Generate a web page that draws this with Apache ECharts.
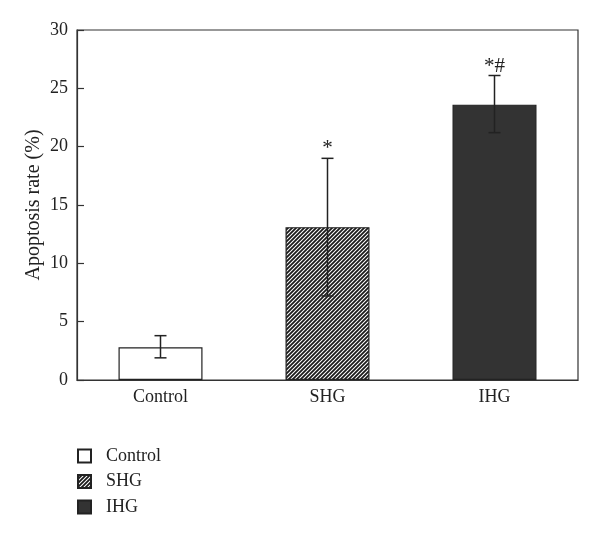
<!DOCTYPE html>
<html>
<head>
<meta charset="utf-8">
<script src="https://cdn.jsdelivr.net/npm/echarts@6/dist/echarts.min.js"></script>
<style>html,body{margin:0;padding:0;background:#fff;}#c{width:600px;height:537px;}</style>
</head>
<body>
<div id="c"></div>
<script>
var categories = ['Control', 'SHG', 'IHG'];
var means = [2.8, 13.1, 23.6];
var errLow = [1.9, 7.2, 21.2];
var errHigh = [3.8, 19.0, 26.1];
var marks = ['', '*', '*#'];
var yTicks = [0, 5, 10, 15, 20, 25, 30];

var FONT = 'Liberation Serif';

function hatch() {
  var c = document.createElement('canvas');
  c.width = 4; c.height = 4;
  var g = c.getContext('2d');
  g.fillStyle = '#ffffff';
  g.fillRect(0, 0, 4, 4);
  g.strokeStyle = '#1a1a1a';
  g.lineWidth = 1.8;
  g.beginPath();
  g.moveTo(-1, 5); g.lineTo(5, -1);
  g.moveTo(-3, 3); g.lineTo(3, -3);
  g.moveTo(1, 7); g.lineTo(7, 1);
  g.stroke();
  return c;
}

var fills = ['#ffffff', {image: hatch(), repeat: 'repeat'}, '#333333'];

var series = categories.map(function (name, i) {
  return {
    name: name,
    type: 'bar',
    barWidth: 84,
    barGap: '-100%',
    itemStyle: {color: fills[i], borderColor: '#222', borderWidth: 1.2},
    data: categories.map(function (c, j) { return j === i ? means[j] : '-'; }),
    silent: true
  };
});

series.push({
  type: 'custom',
  silent: true,
  z: 10,
  data: categories.map(function (c, i) { return [i, errLow[i], errHigh[i]]; }),
  renderItem: function (params, api) {
    var i = api.value(0);
    var lo = api.coord([i, api.value(1)]);
    var hi = api.coord([i, api.value(2)]);
    var x = lo[0], cap = 6;
    var st = {stroke: '#222', lineWidth: 1.5};
    var children = [
      {type: 'line', shape: {x1: x, y1: lo[1], x2: x, y2: hi[1]}, style: st},
      {type: 'line', shape: {x1: x - cap, y1: lo[1], x2: x + cap, y2: lo[1]}, style: st},
      {type: 'line', shape: {x1: x - cap, y1: hi[1], x2: x + cap, y2: hi[1]}, style: st}
    ];
    var m = marks[params.dataIndex];
    if (m) {
      children.push({type: 'text', style: {text: m, x: x, y: hi[1] + 1, align: 'center', verticalAlign: 'bottom',
        font: '21px "' + FONT + '"', fill: '#222'}});
    }
    return {type: 'group', children: children};
  }
});

var chart = echarts.init(document.getElementById('c'), null, {renderer: 'canvas'});
chart.setOption({
  animation: false,
  backgroundColor: '#fff',
  textStyle: {fontFamily: FONT},
  grid: {left: 77, right: 22, top: 30, bottom: 157, show: true, borderColor: '#333', borderWidth: 1.2, backgroundColor: 'transparent'},
  legend: {
    orient: 'vertical', left: 77, top: 447, padding: 0,
    itemWidth: 13, itemHeight: 13, itemGap: 7.5,
    icon: 'rect',
    data: categories,
    textStyle: {fontFamily: FONT, fontSize: 18, color: '#222', padding: [0, 0, 0, 10]},
    selectedMode: false
  },
  xAxis: {
    type: 'category', data: categories,
    axisLine: {lineStyle: {color: '#333', width: 1.2}},
    axisTick: {show: false},
    axisLabel: {fontFamily: FONT, fontSize: 18, color: '#222', margin: 8},
    splitLine: {show: false}
  },
  yAxis: {
    type: 'value', min: yTicks[0], max: yTicks[yTicks.length - 1], interval: 5,
    name: 'Apoptosis rate (%)', nameLocation: 'middle', nameGap: 33, nameMoveOverlap: false,
    nameTextStyle: {fontFamily: FONT, fontSize: 20, color: '#222'},
    axisLine: {show: true, lineStyle: {color: '#333', width: 1.2}},
    axisTick: {show: true, inside: true, length: 7, lineStyle: {color: '#333', width: 1.2}},
    axisLabel: {fontFamily: FONT, fontSize: 18, color: '#222', margin: 9},
    splitLine: {show: false}
  },
  series: series
});
</script>
</body>
</html>
